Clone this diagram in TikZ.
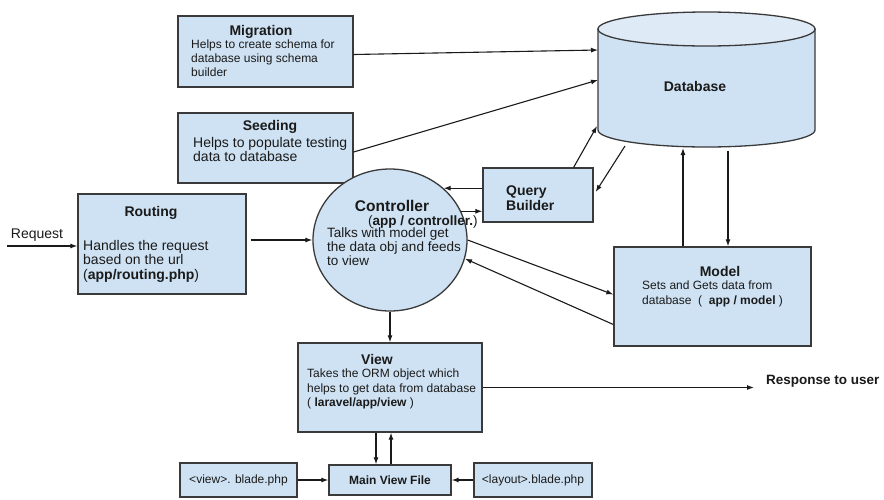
\documentclass[tikz,border=0pt]{standalone}
\usepackage{fontspec}
\setmainfont{Liberation Sans}
\usetikzlibrary{arrows.meta,shapes.geometric,calc}
\definecolor{boxfill}{HTML}{CFE2F3}
\definecolor{boxline}{HTML}{3A3A3A}
\definecolor{dbtop}{HTML}{DEEAF6}
\definecolor{ink}{HTML}{1A1A1A}
\begin{document}
\begin{tikzpicture}[x=1pt,y=-1pt,
  box/.style={draw=boxline, fill=boxfill, line width=1.3pt, rectangle, inner sep=0pt},
  title/.style={font=\fontsize{14}{15}\selectfont\bfseries, text=ink, inner sep=0pt},
  bodytwelve/.style={font=\fontsize{12}{14}\selectfont, align=left, text=ink, inner sep=0pt, anchor=north west},
  bodyfourteen/.style={font=\fontsize{14}{14.5}\selectfont, align=left, text=ink, inner sep=0pt, anchor=north west},
  arr/.style={-{Latex[length=7pt,width=5pt]}, line width=1.1pt, draw=ink}]
\useasboundingbox (0,0) rectangle (884,499);
\fill[white] (0,0) rectangle (884,499);

% database cylinder
\path[draw=boxline, fill=boxfill, line width=1.3pt]
  (598,29) -- (598,130) arc[start angle=180, end angle=0, x radius=108.5, y radius=17] -- (815,29) -- cycle;
\path[draw=boxline, fill=dbtop, line width=1.3pt] (706.5,29) ellipse [x radius=108.5, y radius=17];
\node[title] (db) at (695,86) {Database};
\coordinate (dbin1) at (598,50);
\coordinate (dbin2) at (598,80);
\coordinate (dbin3) at (597,126);
\coordinate (dbout1) at (625,146);
\coordinate (dbin4) at (683,148);
\coordinate (dbout2) at (728,151);

% boxes
\node[box, minimum width=175pt, minimum height=71pt] (mig) at (265.5,51.5) {};
\node[box, minimum width=175pt, minimum height=70pt] (seed) at (265.5,148) {};
\node[box, minimum width=168pt, minimum height=100pt] (rout) at (162,244) {};
\node[draw=boxline, fill=boxfill, line width=1.3pt, ellipse, inner sep=0pt,
      minimum width=154pt, minimum height=142pt] (ctrl) at (390,240) {};
\node[box, minimum width=110pt, minimum height=54pt] (qb) at (538,195) {};
\node[box, minimum width=197pt, minimum height=99pt] (model) at (712.5,296.5) {};
\node[box, minimum width=184pt, minimum height=89pt] (view) at (390,387.5) {};
\node[box, minimum width=122pt, minimum height=30pt, text=ink,
      font=\fontsize{12}{14}\selectfont\bfseries] (mvf) at (390,480) {Main View File};
\node[box, minimum width=117pt, minimum height=34pt, text=ink,
      font=\fontsize{12}{14}\selectfont] (vb) at (238.5,480) {<view>. blade.php};
\node[box, minimum width=118pt, minimum height=34pt, text=ink,
      font=\fontsize{12}{14}\selectfont] (lb) at (533,480) {<layout>.blade.php};

% texts
\node[title] (migt) at (261,32) {Migration};
\node[bodytwelve] (migb) at (191,40) {Helps to create schema for\\database using schema\\builder};
\node[title] (seedt) at (270,127) {Seeding};
\node[bodyfourteen] (seedb) at (193,137) {Helps to populate testing\\data to database};
\node[title] (routt) at (151,213) {Routing};
\node[bodyfourteen] (routb) at (83,240) {Handles the request\\based on the url\\(\textbf{app/routing.php})};
\node[font=\fontsize{15.5}{16}\selectfont\bfseries, text=ink, inner sep=0pt] (ctrlt) at (392,206) {Controller};
\node[font=\fontsize{13.5}{14}\selectfont, text=ink, inner sep=0pt, anchor=west] (ctrls) at (368,222) {(\textbf{app / controller.})};
\node[font=\fontsize{13.5}{14}\selectfont, align=left, text=ink, inner sep=0pt, anchor=north west] (ctrlb) at (327,228) {Talks with model get\\the data obj and feeds\\to view};
\node[font=\fontsize{14}{15}\selectfont\bfseries, align=left, text=ink, inner sep=0pt, anchor=north west] (qbt) at (506,186) {Query\\Builder};
\node[title] (modt) at (720,271) {Model};
\node[font=\fontsize{12}{15}\selectfont, align=left, text=ink, inner sep=0pt, anchor=north west] (modb) at (642,281) {Sets and Gets data from\\database \ (\ \ \textbf{app / model} )};
\node[title] (viewt) at (377,359) {View};
\node[font=\fontsize{12}{14.5}\selectfont, align=left, text=ink, inner sep=0pt, anchor=north west] (viewb) at (307,369) {Takes the ORM object which\\helps to get data from database\\( \textbf{laravel/app/view} )};
\node[font=\fontsize{13.5}{15}\selectfont\bfseries, text=ink, inner sep=0pt, anchor=west] (resp) at (766,381) {Response to user};
\node[font=\fontsize{14}{15}\selectfont, text=ink, inner sep=0pt] (req) at (37,235) {Request};
\coordinate (reqin) at (7,246);

% connectors
\draw[arr] (reqin) -- ($(rout.west)+(0,2)$);
\draw[arr] ($(rout.east)+(4,-4)$) -- (ctrl.west);
\draw[arr] ($(mig.east)+(0,3)$) -- (dbin1);
\draw[arr] ($(seed.east)+(0,4)$) -- (dbin2);
\draw[arr] (qb.west |- ctrl.44) -- (ctrl.44);
\draw[arr] (ctrl.22) -- (qb.west |- ctrl.22);
\draw[arr] ($(qb.north east)+(-20,0)$) -- (dbin3);
\draw[arr] (dbout1) -- ($(qb.east)+(2,-3)$);
\draw[arr] ($(model.north)+(-29.5,0)$) -- (dbin4);
\draw[arr] (dbout2) -- ($(model.north)+(15.5,0)$);
\draw[arr] (ctrl.east) -- ($(model.west)+(0,-2)$);
\draw[arr] ($(model.west)+(0,28)$) -- (ctrl.-14);
\draw[arr] (ctrl.south) -- (view.north);
\draw[arr] (view.east) -- ($(view.east -| resp.west)+(-12,0)$);
\draw[arr] ($(view.south)+(-14,0)$) -- ($(mvf.north)+(-14,0)$);
\draw[arr] ($(mvf.north)+(1,0)$) -- ($(view.south)+(1,0)$);
\draw[arr] (vb.east) -- (mvf.west);
\draw[arr] (lb.west) -- (mvf.east);
\end{tikzpicture}
\end{document}
